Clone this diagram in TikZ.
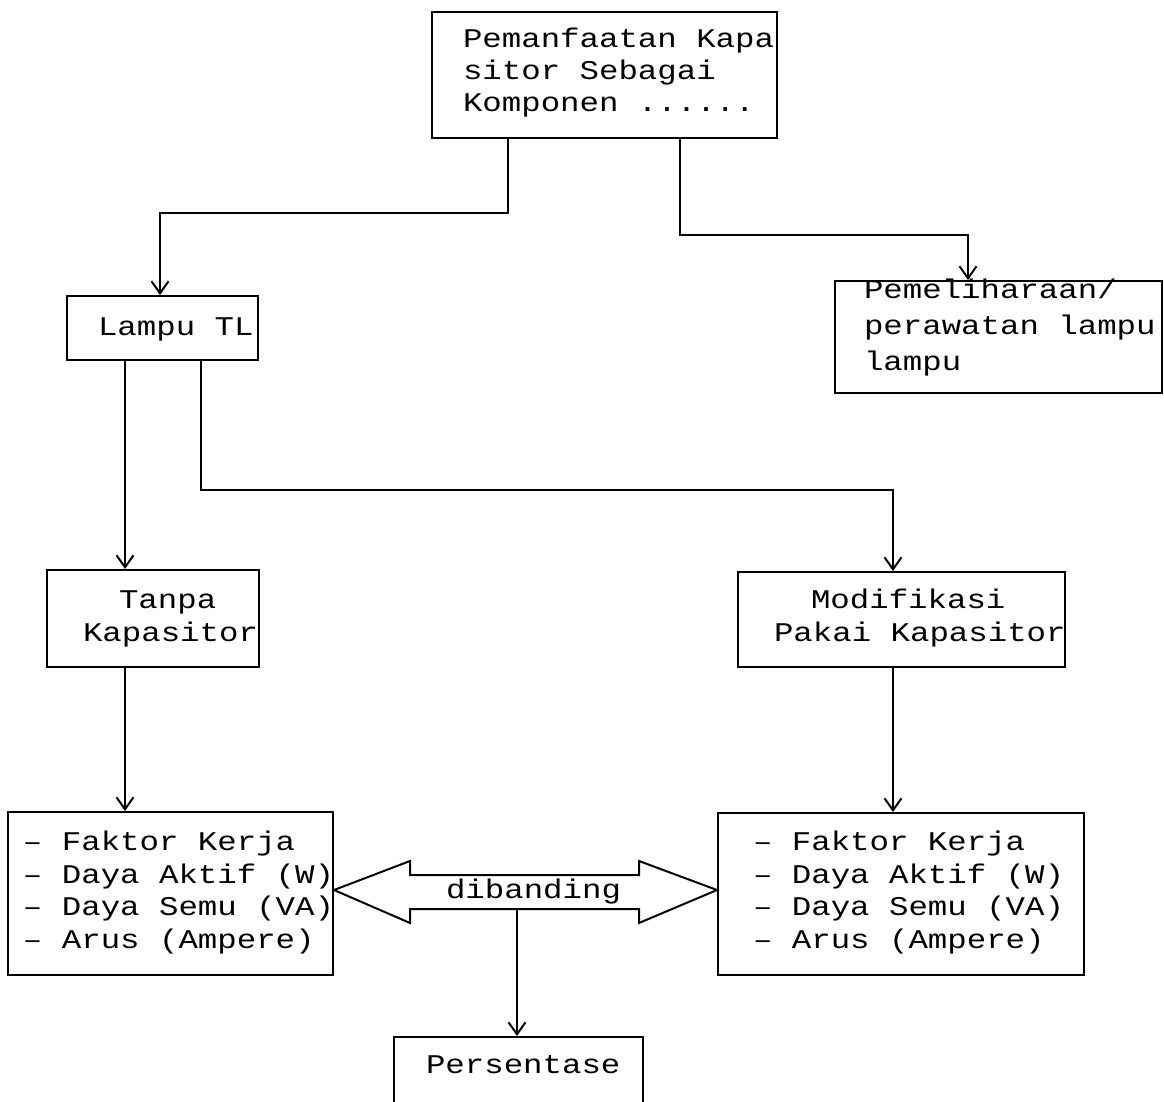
\documentclass[tikz,border=0pt]{standalone}
\usepackage{fontspec}
\newfontfamily\dotfont[FakeStretch=1.2]{Liberation Mono}
\usetikzlibrary{arrows.meta,calc}
\begin{document}
\begin{tikzpicture}[x=1pt,y=-1pt,line width=2pt,
  box/.style={draw,rectangle,inner sep=0pt},
  txt/.style={font=\dotfont\fontsize{27}{32}\selectfont,inner sep=0pt,anchor=base west},
  arr/.style={-{Straight Barb[length=12pt,width=17pt]}}]
\useasboundingbox (0,0) rectangle (1164,1102);
\fill[white] (0,0) rectangle (1164,1102);
\clip (0,0) rectangle (1164,1102);
% boxes
\node[box,minimum width=345pt,minimum height=126pt] (top) at (604.5,75) {};
\node[box,minimum width=191pt,minimum height=64pt] (lampu) at (162.5,328) {};
\node[box,minimum width=327pt,minimum height=112pt] (peme) at (998.5,337) {};
\node[box,minimum width=212pt,minimum height=97pt] (tanpa) at (153,618.5) {};
\node[box,minimum width=327pt,minimum height=95pt] (modif) at (901.5,619.5) {};
\node[box,minimum width=325pt,minimum height=163pt] (listL) at (170.5,893.5) {};
\node[box,minimum width=366pt,minimum height=162pt] (listR) at (901,894) {};
\node[box,minimum width=249pt,minimum height=78pt] (pers) at (518.5,1076) {};
% texts
\node[txt] (t1) at (462,48) {Pemanfaatan Kapa};
\node[txt] (t2) at (462,80) {sitor Sebagai};
\node[txt] (t3) at (462,112) {Komponen ......};
\node[txt] (l1) at (97,335) {Lampu TL};
\node[txt] (p1) at (863,298) {Pemeliharaan/};
\node[txt] (p2) at (863,334) {perawatan lampu};
\node[txt] (p3) at (863,370) {lampu};
\node[txt] (k1) at (118,608) {Tanpa};
\node[txt] (k2) at (82,641) {Kapasitor};
\node[txt] (m1) at (810,608) {Modifikasi};
\node[txt] (m2) at (773,641) {Pakai Kapasitor};
\node[txt] (a1) at (22,850) {– Faktor Kerja};
\node[txt] (a2) at (22,883) {– Daya Aktif (W)};
\node[txt] (a3) at (22,915) {– Daya Semu (VA)};
\node[txt] (a4) at (22,948) {– Arus (Ampere)};
\node[txt] (b1) at (752,850) {– Faktor Kerja};
\node[txt] (b2) at (752,883) {– Daya Aktif (W)};
\node[txt] (b3) at (752,915) {– Daya Semu (VA)};
\node[txt] (b4) at (752,948) {– Arus (Ampere)};
\node[txt] (ps) at (425,1073) {Persentase};
% route points
\coordinate (c1) at (508,213);
\coordinate (c2) at (160,213);
\coordinate (c3) at (680,235);
\coordinate (c4) at (968,235);
\coordinate (d1) at (125,400);
\coordinate (d2) at (201,490);
\coordinate (d3) at (893,490);
% connectors
\draw[arr] (top.south -| c1) -- (c1) -- (c2) -- (lampu.north -| c2);
\draw[arr] (top.south -| c3) -- (c3) -- (c4) -- (peme.north -| c4);
\draw[arr] (lampu.south -| d1) -- (tanpa.north -| d1);
\draw[arr] (lampu.south -| d2) -- (d2) -- (d3) -- (modif.north -| d3);
\draw[arr] (tanpa.south -| d1) -- (listL.north -| d1);
\draw[arr] (modif.south -| d3) -- (listR.north -| d3);
% double arrow
\coordinate (ym) at (0,890);
\coordinate (tl) at (listL.east |- ym);
\coordinate (tr) at (listR.west |- ym);
\draw[line join=miter]
  (tl) -- ($(tl)+(76,-29)$) -- ($(tl)+(76,-15)$) -- ($(tr)+(-78,-15)$) -- ($(tr)+(-78,-29)$)
  -- (tr) -- ($(tr)+(-78,33)$) -- ($(tr)+(-78,19)$) -- ($(tl)+(76,19)$) -- ($(tl)+(76,33)$) -- cycle;
\node[txt] (cmp) at (445,898) {dibanding};
\coordinate (e1) at (517,909);
\draw[arr] (e1) -- (pers.north -| e1);
\end{tikzpicture}
\end{document}
